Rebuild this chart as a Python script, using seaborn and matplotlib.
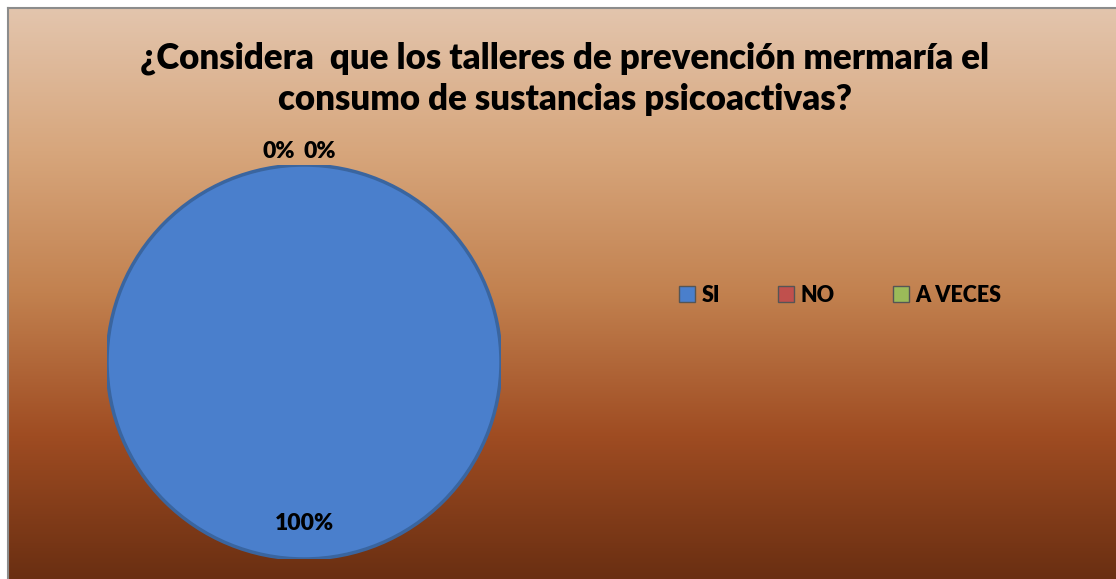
import matplotlib.pyplot as plt
import matplotlib.patches as mpatches
import numpy as np
import seaborn as sns
from matplotlib.colors import LinearSegmentedColormap

# data
categories = ["SI", "NO", "A VECES"]
values = [100, 0, 0]
colors = ["#4a7fcc", "#c0504d", "#9bbb59"]
title = "¿Considera  que los talleres de prevención mermaría el\nconsumo de sustancias psicoactivas?"

sns.set_style("white")
plt.rcParams["font.family"] = ["Lato", "DejaVu Sans"]
plt.rcParams["text.color"] = "black"
WEIGHT = "heavy"

fig = plt.figure(figsize=(11.16, 5.79), dpi=100)
fig.patch.set_facecolor("white")

# background gradient panel with gray frame
bg = fig.add_axes([8 / 1116, 0, 1108 / 1116, 571 / 579])
grad = LinearSegmentedColormap.from_list(
    "bg",
    ["#e3c5ad", "#d7a67c", "#c2814f", "#9f4c22", "#6a2f12"],
)
bg.imshow(np.linspace(0, 1, 256).reshape(-1, 1), aspect="auto", cmap=grad,
          extent=[0, 1, 0, 1])
bg.set_xticks([])
bg.set_yticks([])
for side in ["top", "left"]:
    bg.spines[side].set_color("#8c8c8c")
    bg.spines[side].set_linewidth(1.5)
for side in ["right", "bottom"]:
    bg.spines[side].set_visible(False)

# pie axes: center (304, 362), radius 197 px
cx, cy, r = 304, 362, 197
ax = fig.add_axes([(cx - r) / 1116, (579 - cy - r) / 579, 2 * r / 1116, 2 * r / 579])
ax.set_facecolor("none")
wedges, texts, autotexts = ax.pie(
    values,
    colors=colors,
    startangle=90,
    counterclock=False,
    autopct="%1.0f%%",
    pctdistance=0.82,
    wedgeprops={"linewidth": 0},
    textprops=dict(fontweight=WEIGHT, fontsize=16.5, color="black"),
)
# darker rim like the original bevel
ax.add_patch(mpatches.Circle((0, 0), 1.0, facecolor="none",
                             edgecolor="#3a659f", linewidth=2.5, zorder=3))
ax.set_xlim(-1, 1)
ax.set_ylim(-1, 1)
ax.set_aspect("equal")

# zero slices sit at the top; put their labels just outside the edge
zero_offsets = [-0.13, 0.08]
k = 0
for t, v in zip(autotexts, values):
    t.set_zorder(4)
    if v == 0:
        t.set_position((zero_offsets[k], 1.07))
        t.set_ha("center")
        k += 1

fig.text(565 / 1116, 1 - 79 / 579, title, ha="center", va="center",
         fontsize=25, fontweight=WEIGHT, linespacing=1.3, color="black")

handles = [mpatches.Patch(facecolor=c, edgecolor="#555555", label=n)
           for n, c in zip(categories, colors)]
leg = fig.legend(
    handles=handles,
    loc="center",
    bbox_to_anchor=(840 / 1116, 1 - 295 / 579),
    ncol=3,
    frameon=False,
    prop={"weight": WEIGHT, "size": 15.5},
    handlelength=0.75,
    handleheight=0.75,
    handletextpad=0.3,
    columnspacing=2.7,
)
for t in leg.get_texts():
    t.set_color("black")

plt.savefig("out.png", dpi=100)
